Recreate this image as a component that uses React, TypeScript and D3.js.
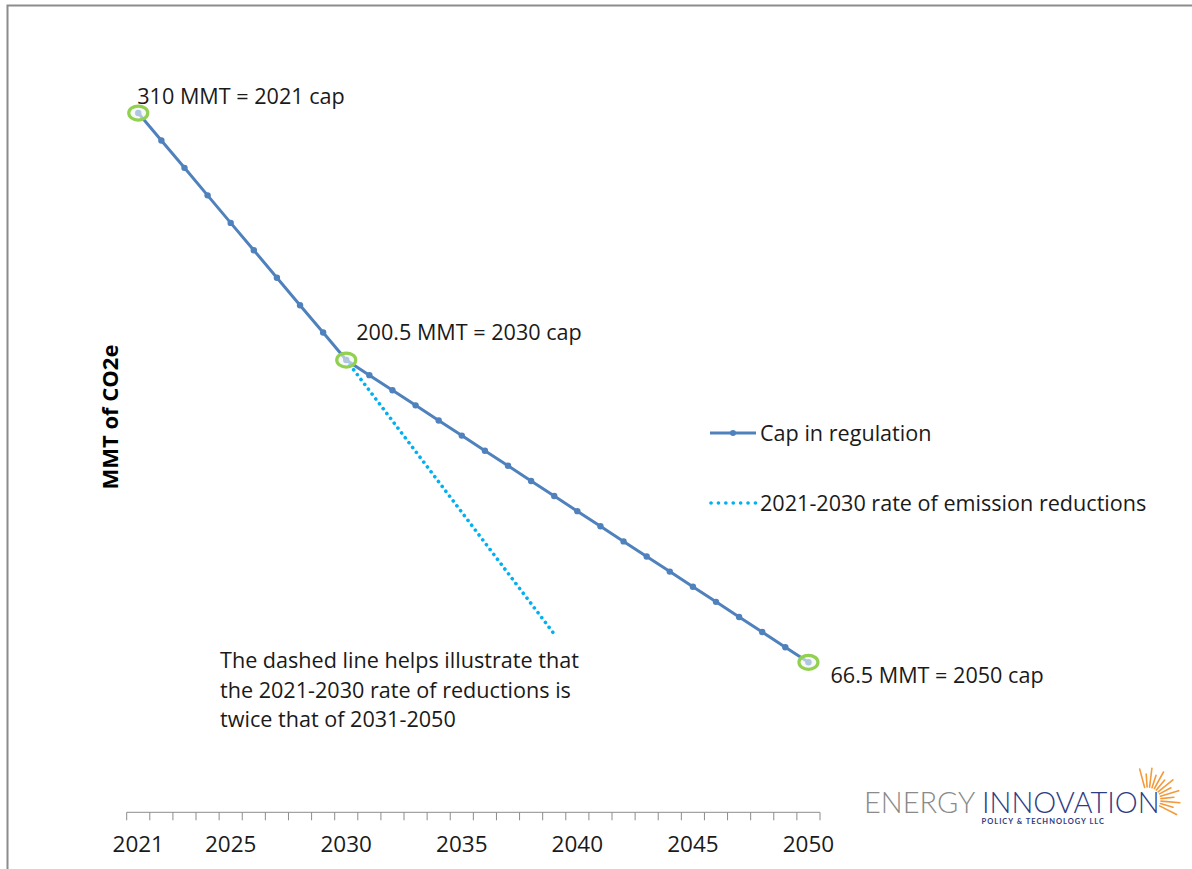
import React, { useEffect, useRef } from 'react'
import * as d3 from 'd3'

// chart values
const years = [
  2021, 2022, 2023, 2024, 2025, 2026, 2027, 2028, 2029, 2030,
  2031, 2032, 2033, 2034, 2035, 2036, 2037, 2038, 2039, 2040,
  2041, 2042, 2043, 2044, 2045, 2046, 2047, 2048, 2049, 2050,
]
const capValues = [
  310, 297.8, 285.7, 273.5, 261.3, 249.2, 237, 224.8, 212.7, 200.5,
  193.8, 187.1, 180.4, 173.7, 167, 160.3, 153.6, 146.9, 140.2, 133.5,
  126.8, 120.1, 113.4, 106.7, 100, 93.3, 86.6, 79.9, 73.2, 66.5,
]
const rateYears = [2030, 2039]
const rateValues = [200.5, 79]
const tickLabelYears = [2021, 2025, 2030, 2035, 2040, 2045, 2050]
const highlightYears = [2021, 2030, 2050]
const callouts = [
  { year: 2021, text: '310 MMT = 2021 cap' },
  { year: 2030, text: '200.5 MMT = 2030 cap' },
  { year: 2050, text: '66.5 MMT = 2050 cap' },
]
const legendItems = ['Cap in regulation', '2021-2030 rate of emission reductions']
const noteLines = [
  'The dashed line helps illustrate that',
  'the 2021-2030 rate of reductions is',
  'twice that of 2031-2050',
]

const FONT = '"Open Sans", Lato, sans-serif'
const LOGO_FONT = 'Lato, sans-serif'
const FS = 21.6
const BLUE = '#4f81bd'
const CYAN = '#00b0f0'
const GREEN = '#92d050'

function drawChart(el: SVGSVGElement) {
  const svg = d3.select(el)
  svg.selectAll('*').remove()

  const x = d3.scaleBand<number>().domain(years).range([126.7, 820]).padding(0)
  const cx = (yr: number) => (x(yr) as number) + x.bandwidth() / 2
  const y = d3.scaleLinear().domain([0, 350]).range([812.3, 22.8])

  // outer border
  svg.append('rect')
    .attr('x', 7.5).attr('y', 5.5)
    .attr('width', 1300).attr('height', 1000)
    .attr('fill', 'none').attr('stroke', '#8c8c8c').attr('stroke-width', 2)

  // x axis: line + ticks on category boundaries
  const axis = svg.append('g')
  axis.append('line')
    .attr('x1', 126.7).attr('x2', 820)
    .attr('y1', y(0)).attr('y2', y(0))
    .attr('stroke', '#8c8c8c').attr('stroke-width', 1)
  const bounds = years.map(yr => x(yr) as number).concat([820])
  axis.selectAll('line.tick').data(bounds).join('line')
    .attr('class', 'tick')
    .attr('x1', d => d).attr('x2', d => d)
    .attr('y1', y(0)).attr('y2', y(0) + 8)
    .attr('stroke', '#8c8c8c').attr('stroke-width', 1)
  axis.selectAll('text').data(tickLabelYears).join('text')
    .attr('x', d => cx(d)).attr('y', 852)
    .attr('text-anchor', 'middle')
    .attr('font-family', FONT).attr('font-size', 22.5)
    .attr('fill', '#1a1a1a')
    .text(d => d)

  // y axis title
  svg.append('text')
    .attr('transform', 'translate(118,417) rotate(-90)')
    .attr('text-anchor', 'middle')
    .attr('font-family', FONT).attr('font-size', 22).attr('font-weight', 'bold')
    .attr('fill', '#000')
    .text('MMT of CO2e')

  // dotted 2021-2030 rate line
  const rate = rateYears.map((yr, i) => [cx(yr), y(rateValues[i])] as [number, number])
  svg.append('path')
    .attr('d', d3.line()(rate))
    .attr('fill', 'none').attr('stroke', CYAN).attr('stroke-width', 3.6)
    .attr('stroke-dasharray', '0.1 6').attr('stroke-linecap', 'round')

  // cap line
  const pts = years.map((yr, i) => [cx(yr), y(capValues[i])] as [number, number])
  svg.append('path')
    .attr('d', d3.line()(pts))
    .attr('fill', 'none').attr('stroke', BLUE).attr('stroke-width', 3)
  svg.selectAll('circle.mk').data(pts).join('circle')
    .attr('class', 'mk')
    .attr('cx', d => d[0]).attr('cy', d => d[1]).attr('r', 3.2)
    .attr('fill', BLUE)

  // highlight rings
  highlightYears.forEach(yr => {
    const v = capValues[years.indexOf(yr)]
    svg.append('ellipse')
      .attr('cx', cx(yr)).attr('cy', y(v))
      .attr('rx', 9.5).attr('ry', 7)
      .attr('fill', 'rgba(240,244,246,0.6)')
      .attr('stroke', GREEN).attr('stroke-width', 3.2)
  })

  // callout labels
  const offsets: Record<number, [number, number]> = { 2021: [-1, -9], 2030: [10, -20], 2050: [22, 21] }
  svg.selectAll('text.callout').data(callouts).join('text')
    .attr('class', 'callout')
    .attr('x', d => cx(d.year) + offsets[d.year][0])
    .attr('y', d => y(capValues[years.indexOf(d.year)]) + offsets[d.year][1])
    .attr('font-family', FONT).attr('font-size', FS)
    .attr('fill', '#1a1a1a')
    .text(d => d.text)

  // legend
  const lg = svg.append('g')
  lg.append('line')
    .attr('x1', 710).attr('x2', 756).attr('y1', 433).attr('y2', 433)
    .attr('stroke', BLUE).attr('stroke-width', 3)
  lg.append('circle').attr('cx', 733).attr('cy', 433).attr('r', 3).attr('fill', BLUE)
  lg.append('line')
    .attr('x1', 711).attr('x2', 756).attr('y1', 503).attr('y2', 503)
    .attr('stroke', CYAN).attr('stroke-width', 3.6)
    .attr('stroke-dasharray', '0.1 7.3').attr('stroke-linecap', 'round')
  lg.selectAll('text').data(legendItems).join('text')
    .attr('x', 760).attr('y', (d, i) => 441 + i * 70)
    .attr('font-family', FONT).attr('font-size', FS)
    .attr('fill', '#1a1a1a')
    .text(d => d)

  // note
  svg.selectAll('text.note').data(noteLines).join('text')
    .attr('class', 'note')
    .attr('x', 220).attr('y', (d, i) => 668 + i * 29.5)
    .attr('font-family', FONT).attr('font-size', FS)
    .attr('fill', '#1a1a1a')
    .text(d => d)

  // logo
  const logo = svg.append('g')
  const rays = d3.range(13)
  const ang = (d: number) => (-105 + d * 11) * Math.PI / 180
  logo.selectAll('line').data(rays).join('line')
    .attr('x1', d => 1148 + 13 * Math.cos(ang(d)))
    .attr('y1', d => 800 + 13 * Math.sin(ang(d)))
    .attr('x2', d => 1148 + (d % 2 ? 26 : 32) * Math.cos(ang(d)))
    .attr('y2', d => 800 + (d % 2 ? 26 : 32) * Math.sin(ang(d)))
    .attr('stroke', '#f39a3a').attr('stroke-width', 1.6).attr('stroke-linecap', 'round')
  const t = logo.append('text')
    .attr('x', 864).attr('y', 813)
    .attr('font-family', LOGO_FONT).attr('font-size', 29).attr('font-weight', 300)
  t.append('tspan').attr('fill', '#8a8a8a').text('ENERGY ')
  t.append('tspan').attr('fill', '#2f3b83').text('INNOVATION')
  logo.append('text')
    .attr('x', 1105).attr('y', 824)
    .attr('text-anchor', 'end')
    .attr('font-family', LOGO_FONT).attr('font-size', 7.5).attr('font-weight', 'bold')
    .attr('letter-spacing', 1)
    .attr('fill', '#2f3b83')
    .text('POLICY & TECHNOLOGY LLC')
}

const App = () => {
  const ref = useRef<SVGSVGElement>(null)
  useEffect(() => {
    if (ref.current) drawChart(ref.current)
  })
  return (
    <svg
      ref={ref}
      width={1192}
      height={869}
      style={{ position: 'absolute', left: 0, top: 0, background: '#fff' }}
    />
  )
}

export default App
